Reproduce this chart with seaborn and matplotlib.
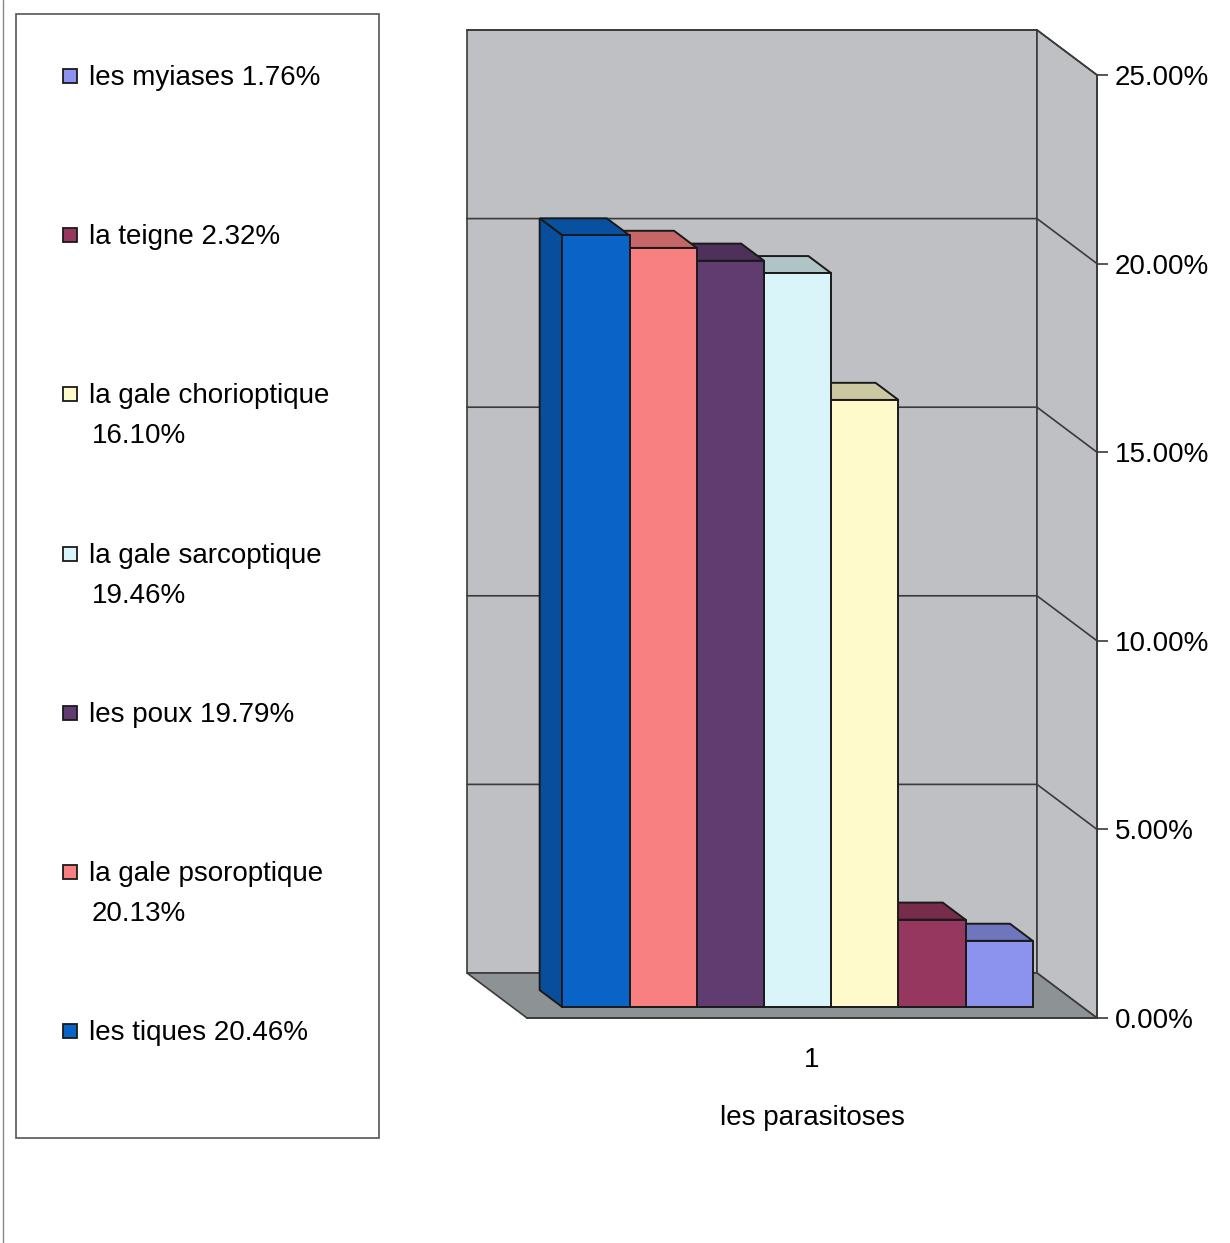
import numpy as np
import pandas as pd
import seaborn as sns
import matplotlib.pyplot as plt
from matplotlib.patches import Polygon, Rectangle
from matplotlib.lines import Line2D
from matplotlib.colors import to_rgb

# values, bars from left to right
names = ['les tiques', 'la gale psoroptique', 'les poux', 'la gale sarcoptique',
         'la gale chorioptique', 'la teigne', 'les myiases']
values = [20.46, 20.13, 19.79, 19.46, 16.10, 2.32, 1.76]
colors = ['#0A64C8', '#F98080', '#613C70', '#D9F5F9', '#FFFACB', '#95375F', '#8C93EE']
category = '1'
yticks = [0, 5, 10, 15, 20, 25]
xlabel = 'les parasitoses'

W, H = 1230, 1243


def fx(x):
    return x / W


def fy(y):
    return 1 - y / H


if __name__ == '__main__':
    sns.set_style('white')
    plt.rcParams['font.family'] = ['Liberation Sans', 'DejaVu Sans']
    plt.rcParams['text.color'] = 'black'
    plt.rcParams['axes.labelcolor'] = 'black'
    plt.rcParams['xtick.color'] = 'black'
    plt.rcParams['ytick.color'] = 'black'

    fig = plt.figure(figsize=(W / 100, H / 100), dpi=100)

    # bar plane axes (bars live here), front plane axes (ticks live here)
    ax = fig.add_axes([fx(512.6), fy(1007.2), 570 / W, 943 / H])
    ax2 = fig.add_axes([fx(527), fy(1018), 570 / W, 943 / H])

    df = pd.DataFrame({'cat': [category] * len(names), 'name': names, 'value': values})
    sns.barplot(df, x='cat', y='value', hue='name', hue_order=names, palette=colors,
                saturation=1, width=0.825, legend=False, edgecolor='#1a1a1a',
                linewidth=1.4, ax=ax)
    bars = list(ax.patches)
    ax.set_xlim(-0.5, 0.5)
    ax.set_ylim(0, 25)
    ax.set_axis_off()

    # oblique depth: 60 px left / 45 px up for a full depth
    DX = -60 / 570
    DY = 45 * 25 / 943

    def proj(x, y, z):
        return (x + z * DX, y + z * DY)

    zb, zf = 0.76, -0.24
    wall = '#BEC0C3'
    floor = '#8D9295'
    line = '#3a3a3a'
    kw = dict(clip_on=False, edgecolor=line, linewidth=1.2)
    ax.add_patch(Polygon([proj(-0.5, 0, zb), proj(0.5, 0, zb), proj(0.5, 25, zb), proj(-0.5, 25, zb)],
                         facecolor=wall, zorder=0.5, **kw))
    ax.add_patch(Polygon([proj(0.5, 0, zb), proj(0.5, 25, zb), proj(0.5, 25, zf), proj(0.5, 0, zf)],
                         facecolor=wall, zorder=0.5, **kw))
    ax.add_patch(Polygon([proj(-0.5, 0, zb), proj(0.5, 0, zb), proj(0.5, 0, zf), proj(-0.5, 0, zf)],
                         facecolor=floor, zorder=0.6, **kw))
    for t in yticks[1:]:
        p0, p1, p2 = proj(-0.5, t, zb), proj(0.5, t, zb), proj(0.5, t, zf)
        ax.add_line(Line2D([p0[0], p1[0], p2[0]], [p0[1], p1[1], p2[1]], color=line,
                           linewidth=1.2, clip_on=False, zorder=0.7))

    # pseudo 3d faces, leftmost bar drawn last
    depth = 0.38
    n = len(bars)
    for i, b in enumerate(bars):
        x0, x1, h = b.get_x(), b.get_x() + b.get_width(), b.get_height()
        c = np.array(to_rgb(colors[i]))
        z = 2 + 2 * (n - i)
        ax.add_patch(Polygon([proj(x0, h, 0), proj(x1, h, 0), proj(x1, h, depth), proj(x0, h, depth)],
                             facecolor=c * 0.8, edgecolor='#1a1a1a', linewidth=1.4,
                             clip_on=False, zorder=z))
        ax.add_patch(Polygon([proj(x0, 0, 0), proj(x0, h, 0), proj(x0, h, depth), proj(x0, 0, depth)],
                             facecolor=c * 0.78, edgecolor='#1a1a1a', linewidth=1.4,
                             clip_on=False, zorder=z))
        b.set_zorder(z + 1)
        b.set_clip_on(False)

    # front axes: value axis on the right, category axis below
    ax2.patch.set_visible(False)
    ax2.set_xlim(-0.5, 0.5)
    ax2.set_ylim(0, 25)
    for s in ['left', 'top']:
        ax2.spines[s].set_visible(False)
    for s in ['right', 'bottom']:
        ax2.spines[s].set_color(line)
        ax2.spines[s].set_linewidth(1.3)
    ax2.yaxis.tick_right()
    ax2.set_yticks(yticks)
    ax2.set_yticklabels([f'{t:.2f}%' for t in yticks])
    ax2.tick_params(axis='y', direction='out', length=8, width=1.2, color=line, pad=5,
                    labelsize=20)
    ax2.set_xticks([0])
    ax2.set_xticklabels([category])
    ax2.set_xticks([-0.5, 0.5], minor=True)
    ax2.tick_params(axis='x', which='major', length=0, pad=21, labelsize=20)
    ax2.tick_params(axis='x', which='minor', direction='out', length=10, width=1.2, color=line)
    ax2.set_xlabel(xlabel, fontsize=20, labelpad=23)

    # legend box, entries spaced evenly like the original
    fig.add_artist(Rectangle((fx(16), fy(1138)), fx(379) - fx(16), fy(14) - fy(1138),
                             facecolor='none', edgecolor='#555555', linewidth=1.2))
    for k, i in enumerate(range(n - 1, -1, -1)):
        base = 85 + k * 159.2
        label = f'{names[i]} {values[i]:.2f}%'
        if len(names[i]) > 14:
            label = f'{names[i]}\n{values[i]:.2f}%'
        lines = label.split('\n')
        fig.add_artist(Rectangle((fx(63), fy(base - 2)), 14 / W, 14 / H, facecolor=colors[i],
                                 edgecolor='#1a1a1a', linewidth=1.3))
        for j, s in enumerate(lines):
            fig.text(fx(89 if j == 0 else 92), fy(base + 40 * j), s, fontsize=20,
                     va='baseline', ha='left', color='black')

    # scan border on the left edge
    fig.add_artist(Line2D([fx(3), fx(3)], [0, 1], color='#888888', linewidth=1))

    fig.savefig('out.png', dpi=100)
